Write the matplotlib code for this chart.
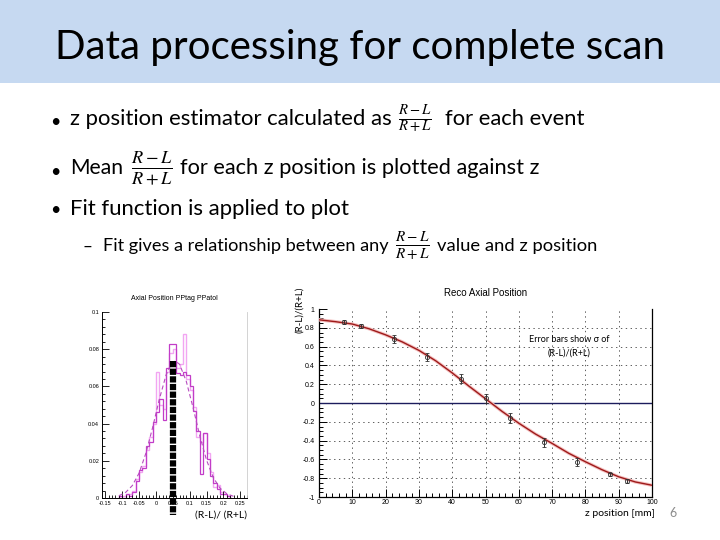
import numpy as np
import matplotlib
matplotlib.use('Agg')
import matplotlib.pyplot as plt
from matplotlib.ticker import MultipleLocator, FixedLocator
from matplotlib.patches import Rectangle

plt.rcParams['mathtext.fontset'] = 'stix'
plt.rcParams['font.family'] = ['Lato', 'DejaVu Sans']
plt.rcParams['lines.scale_dashes'] = False

W, H = 720, 540

# ---- left plot: histogram of (R-L)/(R+L) ----
hist_edges = [-0.11, -0.10, -0.09, -0.08, -0.07, -0.06, -0.05, -0.04, -0.03, -0.02, -0.01,
              0.00, 0.01, 0.02, 0.03, 0.04, 0.05, 0.06, 0.07, 0.08, 0.09, 0.10,
              0.11, 0.12, 0.13, 0.14, 0.15, 0.16, 0.17, 0.18, 0.19, 0.20, 0.21, 0.22]
hist_dark = [0.001, 0.0, 0.002, 0.001, 0.003, 0.009, 0.015, 0.016, 0.028, 0.030, 0.041,
             0.046, 0.053, 0.042, 0.070, 0.083, 0.083, 0.067, 0.066, 0.068, 0.066, 0.060,
             0.047, 0.036, 0.013, 0.035, 0.021, 0.012, 0.008, 0.005, 0.002, 0.002, 0.001]
hist_light = [0.001, 0.001, 0.002, 0.002, 0.004, 0.010, 0.014, 0.017, 0.026, 0.033, 0.040,
              0.068, 0.050, 0.048, 0.068, 0.078, 0.080, 0.070, 0.072, 0.088, 0.064, 0.058,
              0.049, 0.033, 0.030, 0.035, 0.024, 0.014, 0.006, 0.007, 0.003, 0.002, 0.001]
gaus_x = [-0.11, -0.09, -0.07, -0.05, -0.03, -0.01, 0.01, 0.03, 0.045, 0.057,
          0.07, 0.09, 0.11, 0.13, 0.15, 0.17, 0.19, 0.21, 0.23]
gaus_y = [0.0012, 0.003, 0.0067, 0.0134, 0.024, 0.0378, 0.0531, 0.0661, 0.0722, 0.0737,
          0.0719, 0.0627, 0.0486, 0.0334, 0.0204, 0.011, 0.0053, 0.0023, 0.0009]
hist_mean = 0.05
hist_mean_top = 0.0735
hist_xticks = [-0.15, -0.1, -0.05, 0, 0.05, 0.1, 0.15, 0.2, 0.25]
hist_xlabels = ['-0.15', '-0.1', '-0.05', '0', '0.05', '0.1', '0.15', '0.2', '0.25']
hist_yticks = [0, 0.02, 0.04, 0.06, 0.08, 0.1]
hist_ylabels = ['0', '0.02', '0.04', '0.06', '0.08', '0.1']

# ---- right plot: mean (R-L)/(R+L) vs z ----
z_pos = [7.5, 12.5, 22.5, 32.5, 42.5, 50, 57.5, 67.5, 77.5, 87.5, 92.5]
z_mean = [0.86, 0.82, 0.68, 0.49, 0.26, 0.05, -0.16, -0.42, -0.63, -0.76, -0.83]
z_err = [0.02, 0.02, 0.04, 0.04, 0.05, 0.05, 0.05, 0.05, 0.04, 0.02, 0.02]
fit_z = [0, 5, 10, 15, 20, 25, 30, 35, 40, 45, 50, 55, 60, 65, 70, 75, 80, 85, 90, 95, 100]
fit_v = [0.885, 0.865, 0.84, 0.79, 0.725, 0.65, 0.56, 0.45, 0.32, 0.18, 0.045, -0.09,
         -0.215, -0.33, -0.43, -0.535, -0.625, -0.71, -0.785, -0.84, -0.875]
z_ticks = [0, 10, 20, 30, 40, 50, 60, 70, 80, 90, 100]
v_ticks = [-1, -0.8, -0.6, -0.4, -0.2, 0, 0.2, 0.4, 0.6, 0.8, 1]
v_labels = ['-1', '-0.8', '-0.6', '-0.4', '-0.2', '0', '0.2', '0.4', '0.6', '0.8', '1']

fig = plt.figure(figsize=(7.2, 5.4), dpi=100)
fig.patch.set_facecolor('white')
renderer = fig.canvas.get_renderer()

# title band
fig.add_artist(Rectangle((0, 1 - 83 / H), 1, 83 / H, transform=fig.transFigure,
                         facecolor='#c6d9f1', edgecolor='none', zorder=0))


def slide_text(x0, x1, y, s, size, **kw):
    # fit the text between x0 and x1 (pixels)
    t = fig.text(x0 / W, 1 - y / H, s, fontsize=size, va='center', ha='left', **kw)
    w = t.get_window_extent(renderer).width
    t.set_fontsize(size * (x1 - x0) / w)
    return t


slide_text(55, 665, 47, 'Data processing for complete scan', 30, color='black')

frac = r'$\frac{R-L}{R+L}$'
for yb in [122, 172, 210]:
    fig.text(50 / W, 1 - yb / H, '•', fontsize=13, va='center', ha='left')
slide_text(70, 392, 119, 'z position estimator calculated as', 15)
slide_text(398, 432, 119, frac, 15)
slide_text(445, 585, 119, 'for each event', 15)
slide_text(70, 123, 168, 'Mean', 15)
slide_text(131, 173, 168, frac, 15)
slide_text(180, 540, 168, 'for each z position is plotted against z', 15)
slide_text(70, 349, 209, 'Fit function is applied to plot', 15)
slide_text(82, 92, 247, '–', 12)
slide_text(103, 388, 246, 'Fit gives a relationship between any', 13)
slide_text(395, 430, 246, frac, 13)
slide_text(437, 596, 246, 'value and z position', 13)

fig.text(673 / W, 1 - 513 / H, '6', fontsize=9, color='#8c8c8c', va='center', ha='center')

# ---- left histogram axes ----
ax1 = fig.add_axes([102 / W, 1 - 498 / H, 145 / W, 186 / H])
ax1.stairs(hist_light, hist_edges, color='#f2a6f2', lw=1.0)
ax1.stairs(hist_dark, hist_edges, color='#c23cc8', lw=0.9)
ax1.plot(gaus_x, gaus_y, color='#b84cc0', lw=0.8, dashes=(3, 2))
ax1.plot([hist_mean, hist_mean], [hist_mean_top, -0.0092], color='black', lw=4.5,
         dashes=(4.5, 1.0), clip_on=False, zorder=5)
ax1.set_xlim(-0.16, 0.27)
ax1.set_ylim(0, 0.1)
ax1.xaxis.set_major_locator(FixedLocator(hist_xticks))
ax1.set_xticklabels(hist_xlabels)
ax1.xaxis.set_minor_locator(MultipleLocator(0.01))
ax1.yaxis.set_major_locator(FixedLocator(hist_yticks))
ax1.set_yticklabels(hist_ylabels)
ax1.yaxis.set_minor_locator(MultipleLocator(0.004))
ax1.tick_params(which='both', direction='in', labelsize=4, pad=2, width=0.6, color='black',
                labelfontfamily='Liberation Sans')
ax1.tick_params(which='major', length=5)
ax1.tick_params(which='minor', length=2.5)
ax1.tick_params(axis='y', which='both', right=False)
ax1.spines['top'].set_visible(False)
ax1.spines['right'].set_color('#cccccc')
ax1.spines['right'].set_linewidth(0.6)
for s in ['left', 'bottom']:
    ax1.spines[s].set_linewidth(0.7)
ax1.set_title('Axial Position PPtag PPatol', fontsize=5, pad=9, family='Liberation Sans')
fig.text(221 / W, 1 - 515 / H, '(R-L)/ (R+L)', fontsize=7.5, va='center', ha='center')

# ---- right fit axes ----
ax2 = fig.add_axes([319 / W, 1 - 497 / H, 333 / W, 188 / H])
for zt in z_ticks[1:-1]:
    ax2.axvline(zt, color='#444444', lw=0.6, ls=(0, (1, 2.5)), zorder=1)
for vt in v_ticks[1:-1]:
    if vt != 0:
        ax2.axhline(vt, color='#444444', lw=0.6, ls=(0, (1, 2.5)), zorder=1)
ax2.axhline(0, color='#1c1c5c', lw=1.0, zorder=2)
ax2.plot(fit_z, fit_v, color='#f4c0c0', lw=2.4, zorder=3)
ax2.plot(fit_z, fit_v, color='#9e1a1a', lw=1.0, zorder=4)
ax2.errorbar(z_pos, z_mean, yerr=z_err, fmt='o', ms=3, mfc='none', mec='#333333',
             mew=0.6, ecolor='#333333', elinewidth=0.7, capsize=1.5, capthick=0.6, zorder=5)
ax2.set_xlim(0, 100)
ax2.set_ylim(-1, 1)
ax2.xaxis.set_major_locator(FixedLocator(z_ticks))
ax2.xaxis.set_minor_locator(MultipleLocator(2))
ax2.yaxis.set_major_locator(FixedLocator(v_ticks))
ax2.set_yticklabels(v_labels)
ax2.yaxis.set_minor_locator(MultipleLocator(0.05))
ax2.tick_params(which='both', direction='in', labelsize=5, pad=3, width=0.7, color='black',
                labelfontfamily='Liberation Sans')
ax2.tick_params(axis='x', which='both', pad=1.5)
ax2.tick_params(which='major', length=6)
ax2.tick_params(which='minor', length=3)
ax2.tick_params(axis='y', which='both', right=False)
ax2.spines['top'].set_visible(False)
for s in ['left', 'bottom', 'right']:
    ax2.spines[s].set_linewidth(0.9)
ax2.set_title('Reco Axial Position', fontsize=7, pad=9, family='Liberation Sans')
fig.text(300 / W, 1 - 310 / H, '(R-L)/(R+L)', fontsize=7, rotation=90, va='center', ha='center')
fig.text(620 / W, 1 - 514 / H, 'z position [mm]', fontsize=7.5, va='center', ha='center')
fig.text(569 / W, 1 - 340 / H, 'Error bars show σ of', fontsize=6.5, va='center', ha='center')
fig.text(569 / W, 1 - 353 / H, '(R-L)/(R+L)', fontsize=6.5, va='center', ha='center')

fig.savefig('out.png', dpi=100)
